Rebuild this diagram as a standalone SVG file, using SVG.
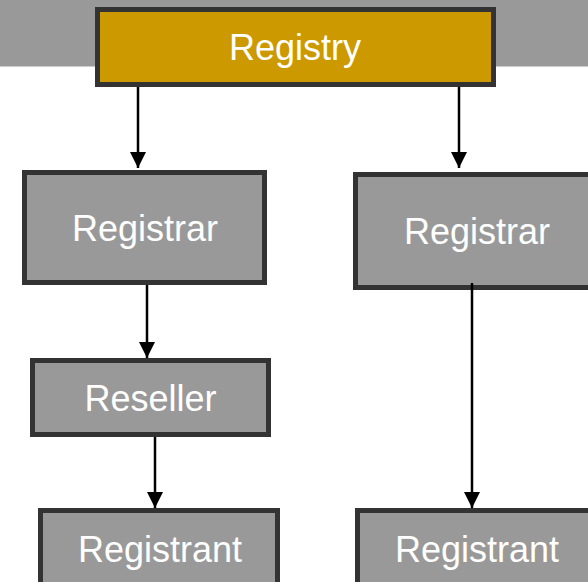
<svg xmlns="http://www.w3.org/2000/svg" width="588" height="582" viewBox="0 0 588 582">
<style>
.box{fill:#999999;stroke:#333333;stroke-width:5}
.gold{fill:#CC9900;stroke:#333333;stroke-width:5}
.lbl{font-family:"Liberation Sans",Arial,sans-serif;font-size:36px;fill:#ffffff;text-anchor:middle}
.conn{stroke:#000000;stroke-width:2.5;fill:none}
</style>
<defs>
<marker id="arr" markerUnits="userSpaceOnUse" markerWidth="16" markerHeight="16" viewBox="0 0 16 16" refX="16" refY="8" orient="auto">
<path d="M0,0 L16,8 L0,16 Z" fill="#000000"/>
</marker>
</defs>
<rect x="0" y="0" width="588" height="66" fill="#999999"/>
<line x1="0" y1="66.5" x2="588" y2="66.5" stroke="#cccccc" stroke-width="1"/>
<g id="registry">
<rect class="gold" x="97.5" y="9.5" width="396" height="75"/>
<text class="lbl" x="295" y="60">Registry</text>
</g>
<g id="registrar-left">
<rect class="box" x="24.5" y="172.5" width="240" height="110"/>
<text class="lbl" x="145" y="241">Registrar</text>
</g>
<g id="registrar-right">
<rect class="box" x="355.5" y="174.5" width="240" height="113"/>
<text class="lbl" x="477" y="244">Registrar</text>
</g>
<g id="reseller">
<rect class="box" x="32.5" y="360.5" width="236" height="74"/>
<text class="lbl" x="150.5" y="411">Reseller</text>
</g>
<g id="registrant-left">
<rect class="box" x="40.5" y="510.5" width="237" height="80"/>
<text class="lbl" x="160" y="562">Registrant</text>
</g>
<g id="registrant-right">
<rect class="box" x="357.5" y="510.5" width="240" height="80"/>
<text class="lbl" x="477" y="562">Registrant</text>
</g>
<g id="connectors">
<line class="conn" x1="138" y1="87" x2="138" y2="168" marker-end="url(#arr)"/>
<line class="conn" x1="459" y1="87" x2="459" y2="168" marker-end="url(#arr)"/>
<line class="conn" x1="147" y1="285" x2="147" y2="358" marker-end="url(#arr)"/>
<line class="conn" x1="472" y1="283" x2="472" y2="508" marker-end="url(#arr)"/>
<line class="conn" x1="155" y1="437" x2="155" y2="508" marker-end="url(#arr)"/>
</g>
</svg>
